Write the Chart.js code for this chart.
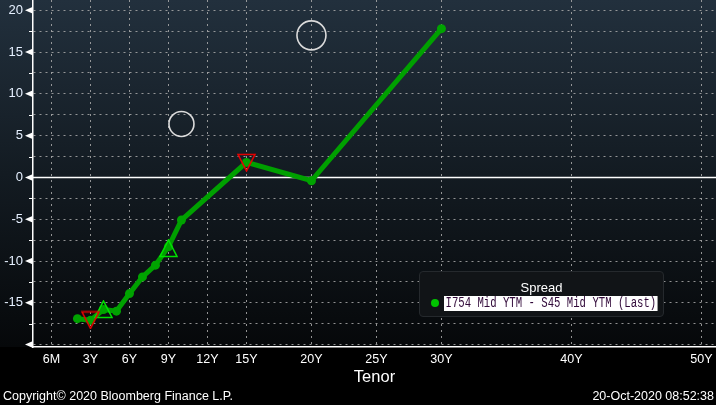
<!DOCTYPE html>
<html><head><meta charset="utf-8">
<script src="https://cdn.jsdelivr.net/npm/chart.js@4"></script>
<style>
html,body{margin:0;padding:0;background:#000;width:716px;height:405px;overflow:hidden;}
#wrap{position:relative;width:716px;height:405px;}
#c{position:absolute;left:0;top:0;}
.txt{position:absolute;color:#fff;font-family:'Liberation Sans',sans-serif;font-size:12.5px;white-space:nowrap;}
#legend{position:absolute;left:419px;top:271px;width:245px;height:46px;background:#111417;border:1px solid #25292d;border-radius:4px;box-sizing:border-box;}
#legTitle{position:absolute;left:0;width:100%;top:9px;text-align:center;color:#fff;font-family:'Liberation Sans',sans-serif;font-size:13px;line-height:14px;}
#legDot{position:absolute;left:11px;top:27px;width:8px;height:8px;border-radius:50%;background:#00c400;}
#legText{position:absolute;left:24px;top:24px;height:15px;background:#fff;color:#300838;font-family:'Liberation Mono',monospace;font-size:14px;line-height:15px;padding:0 2px;white-space:nowrap;transform-origin:0 0;transform:scaleX(0.76);}
</style></head>
<body><div id="wrap">
<canvas id="c" width="716" height="405"></canvas>
<div class="txt" style="left:3px;top:389px">Copyright© 2020 Bloomberg Finance L.P.</div>
<div class="txt" style="right:2px;top:389px">20-Oct-2020 08:52:38</div>
<div id="legend"><div id="legTitle">Spread</div><div id="legDot"></div><div id="legText">I754 Mid YTM - S45 Mid YTM (Last)</div></div>
</div>
<script>
// ---- data ----
const tenors = [2, 3, 4, 5, 6, 7, 8, 9, 10, 15, 20, 30];
const spread = [-16.9, -17.1, -15.8, -16.0, -13.9, -11.9, -10.5, -8.3, -5.1, 1.8, -0.4, 17.8];
const downTenors = [3, 15];
const downValues = [-17.05, 1.8];
const upTenors = [4, 9];
const upValues = [-15.8, -8.5];
const circleTenors = [10, 20];
const circleValues = [6.4, 17.0];
const xTickValues = [0, 3, 6, 9, 12, 15, 20, 25, 30, 40, 50];
const xTickLabels = ['6M', '3Y', '6Y', '9Y', '12Y', '15Y', '20Y', '25Y', '30Y', '40Y', '50Y'];
const yTickValues = [-20, -17.5, -15, -12.5, -10, -7.5, -5, -2.5, 0, 2.5, 5, 7.5, 10, 12.5, 15, 17.5, 20];
const yTickLabels = ['', '', '-15', '', '-10', '', '-5', '', '0', '', '5', '', '10', '', '15', '', '20'];

function pts(xs, ys) { return xs.map((x, i) => ({x: x, y: ys[i]})); }

function tri(color, up) {
  const c = document.createElement('canvas');
  c.width = 19; c.height = 19;
  const g = c.getContext('2d');
  g.strokeStyle = color; g.lineWidth = 1.6;
  g.beginPath();
  if (up) { g.moveTo(9.5, 1); g.lineTo(18, 17.5); g.lineTo(1, 17.5); }
  else { g.moveTo(1, 1.5); g.lineTo(18, 1.5); g.lineTo(9.5, 18); }
  g.closePath(); g.stroke();
  return c;
}

function zeroPad(s) {
  s.paddingLeft = 0; s.paddingRight = 0; s.paddingTop = 0; s.paddingBottom = 0;
  if (s._margins) { s._margins.left = 0; s._margins.right = 0; s._margins.top = 0; s._margins.bottom = 0; }
}

const bgPlugin = {
  id: 'bg',
  beforeDraw(chart) {
    const ctx = chart.ctx, ca = chart.chartArea;
    ctx.save();
    ctx.fillStyle = '#000';
    ctx.fillRect(0, 0, chart.width, chart.height);
    const gr = ctx.createLinearGradient(0, 0, 0, ca.bottom);
    gr.addColorStop(0, 'rgb(34,48,61)');
    gr.addColorStop(0.5, 'rgb(19,27,34)');
    gr.addColorStop(1, 'rgb(6,8,10)');
    ctx.fillStyle = gr;
    ctx.fillRect(0, 0, chart.width, ca.bottom);
    ctx.restore();
  },
  beforeDatasetsDraw(chart) {
    const ctx = chart.ctx, ca = chart.chartArea, ys = chart.scales.y;
    const y0 = Math.round(ys.getPixelForValue(0)) + 0.5;
    ctx.save();
    ctx.strokeStyle = '#ffffff'; ctx.lineWidth = 1.5;
    ctx.beginPath(); ctx.moveTo(ca.left, y0); ctx.lineTo(ca.right, y0); ctx.stroke();
    const xa = ca.left;
    ys.ticks.forEach(t => {
      const y = ys.getPixelForValue(t.value);
      ctx.fillStyle = '#ffffff'; ctx.strokeStyle = '#ffffff';
      if (t.value % 5 === 0) {
        ctx.beginPath(); ctx.moveTo(xa - 8, y); ctx.lineTo(xa, y - 3.5); ctx.lineTo(xa, y + 3.5); ctx.closePath(); ctx.fill();
      } else {
        ctx.lineWidth = 1;
        ctx.beginPath(); ctx.moveTo(xa - 4, Math.round(y) + 0.5); ctx.lineTo(xa, Math.round(y) + 0.5); ctx.stroke();
      }
    });
    ctx.restore();
  }
};

const gridCol = 'rgba(170,170,170,0.85)';
new Chart(document.getElementById('c'), {
  type: 'line',
  data: {
    datasets: [
      {data: pts(circleTenors, circleValues), showLine: false, pointStyle: 'circle', pointRadius: [12.5, 14.5],
       pointBorderColor: '#dcdcdc', pointBackgroundColor: 'rgba(0,0,0,0)', pointBorderWidth: 1.6, order: 0},
      {data: pts(downTenors, downValues), showLine: false, pointStyle: tri('#e80000', false), order: 1},
      {data: pts(upTenors, upValues), showLine: false, pointStyle: tri('#00e000', true), order: 1},
      {data: pts(tenors, spread), borderColor: '#00a000', borderWidth: 5, pointRadius: 4.5,
       pointBackgroundColor: '#00a300', pointBorderColor: '#00a300', pointBorderWidth: 0, tension: 0, order: 5}
    ]
  },
  options: {
    responsive: false, animation: false, devicePixelRatio: 1,
    layout: {autoPadding: false, padding: {left: 0, right: 0, top: 0, bottom: 18}},
    plugins: {legend: {display: false}, tooltip: {enabled: false}},
    scales: {
      x: {
        type: 'linear', min: -1.42, max: 51.12,
        afterBuildTicks: s => { s.ticks = xTickValues.map(v => ({value: v})); },
        afterFit: s => { s.height = 40; zeroPad(s); },
        ticks: {autoSkip: false, maxRotation: 0, padding: 5, color: '#ffffff',
                font: {family: 'Liberation Sans', size: 12.5},
                callback: (v, i) => xTickLabels[i]},
        grid: {color: gridCol, lineWidth: 1, drawTicks: false},
        border: {display: true, color: '#ffffff', width: 1.5, dash: [2, 4]},
        title: {display: true, text: 'Tenor', color: '#ffffff', padding: 0,
                font: {family: 'Liberation Sans', size: 16.5, lineHeight: 1.2}}
      },
      y: {
        type: 'linear', min: -20.29, max: 21.23,
        afterBuildTicks: s => { s.ticks = yTickValues.map(v => ({value: v})); },
        afterFit: s => { s.width = 33; zeroPad(s); },
        ticks: {autoSkip: false, padding: 10, color: '#e6f0ff',
                font: {family: 'Liberation Sans', size: 13},
                callback: (v, i) => yTickLabels[i]},
        grid: {color: gridCol, lineWidth: 1, drawTicks: false},
        border: {display: true, color: '#ffffff', width: 1.5, dash: [2, 4]}
      }
    }
  },
  plugins: [bgPlugin]
});
</script>
</body></html>
